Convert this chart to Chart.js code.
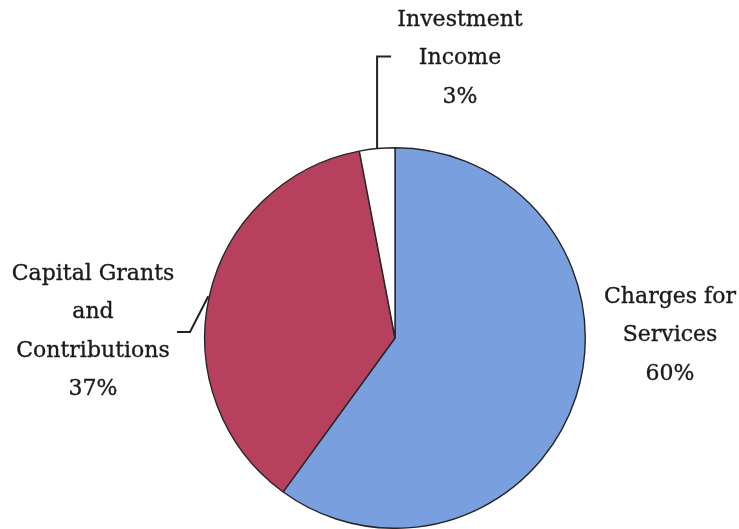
<!DOCTYPE html>
<html>
<head>
<meta charset="utf-8">
<script src="https://cdn.jsdelivr.net/npm/chart.js@4/dist/chart.umd.min.js"></script>
<style>
  html, body { margin: 0; padding: 0; background: #ffffff; }
  #wrap { width: 739px; height: 529px; }
</style>
</head>
<body>
<div id="wrap"><canvas id="c" width="739" height="529"></canvas></div>
<script>
// Revenue sources by share of total
const categories = ['Charges for Services', 'Capital Grants and Contributions', 'Investment Income'];
const shares = [60, 37, 3];
// Multi-line label text for each slice (name lines, then the percentage)
const labelLines = [
  ['Charges for', 'Services'],
  ['Capital Grants', 'and', 'Contributions'],
  ['Investment', 'Income']
];
const sliceColors = ['#7a9fdf', '#b6405e', '#ffffff'];

// Label block placement: centre x and first-line y relative to the pie centre
const labelLayout = [
  { dx: 275, dy: -41 },
  { dx: -302, dy: -64 },
  { dx: 65, dy: -318 }
];
const LINE_GAP = 38.5;

const calloutPlugin = {
  id: 'callouts',
  afterDatasetsDraw(chart) {
    const ctx = chart.ctx;
    const meta = chart.getDatasetMeta(0);
    const arc0 = meta.data[0];
    const cx = arc0.x, cy = arc0.y, r = arc0.outerRadius;
    ctx.save();
    ctx.fillStyle = '#1a1a1a';
    ctx.strokeStyle = '#1a1a1a';
    ctx.lineWidth = 0.35;
    ctx.font = '22px "DejaVu Serif"';
    ctx.textAlign = 'center';
    ctx.textBaseline = 'middle';
    meta.data.forEach((arc, i) => {
      const lay = labelLayout[i];
      const lines = labelLines[i].concat([shares[i] + '%']);
      lines.forEach((t, k) => {
        const x = cx + lay.dx, y = cy + lay.dy + k * LINE_GAP;
        ctx.fillText(t, x, y);
        ctx.strokeText(t, x, y);
      });
    });

    // Leader lines from the small slices to their labels
    ctx.strokeStyle = '#222';
    ctx.lineWidth = 2;
    const mid = a => (a.startAngle + a.endAngle) / 2;

    const inv = meta.data[2];
    const ai = mid(inv);
    const ix = cx + Math.cos(ai) * r, iy = cy + Math.sin(ai) * r;
    ctx.beginPath();
    ctx.moveTo(ix, iy);
    ctx.lineTo(ix, cy + labelLayout[2].dy + LINE_GAP - 2);
    ctx.lineTo(ix + 14, cy + labelLayout[2].dy + LINE_GAP - 2);
    ctx.stroke();

    const cap = meta.data[1];
    const ac = mid(cap);
    const px = cx + Math.cos(ac) * (r + 1), py = cy + Math.sin(ac) * (r + 1);
    ctx.beginPath();
    ctx.moveTo(px, py);
    ctx.lineTo(cx - 205, cy - 6);
    ctx.lineTo(cx - 218, cy - 6);
    ctx.stroke();
    ctx.restore();
  }
};

new Chart(document.getElementById('c'), {
  type: 'pie',
  data: {
    labels: categories,
    datasets: [{
      data: shares,
      backgroundColor: sliceColors,
      borderColor: '#262626',
      borderWidth: 1.4
    }]
  },
  options: {
    responsive: false,
    animation: false,
    layout: { padding: { top: 147, bottom: 0, left: 200, right: 149 } },
    plugins: {
      legend: { display: false },
      tooltip: { enabled: false }
    }
  },
  plugins: [calloutPlugin]
});
</script>
</body>
</html>
